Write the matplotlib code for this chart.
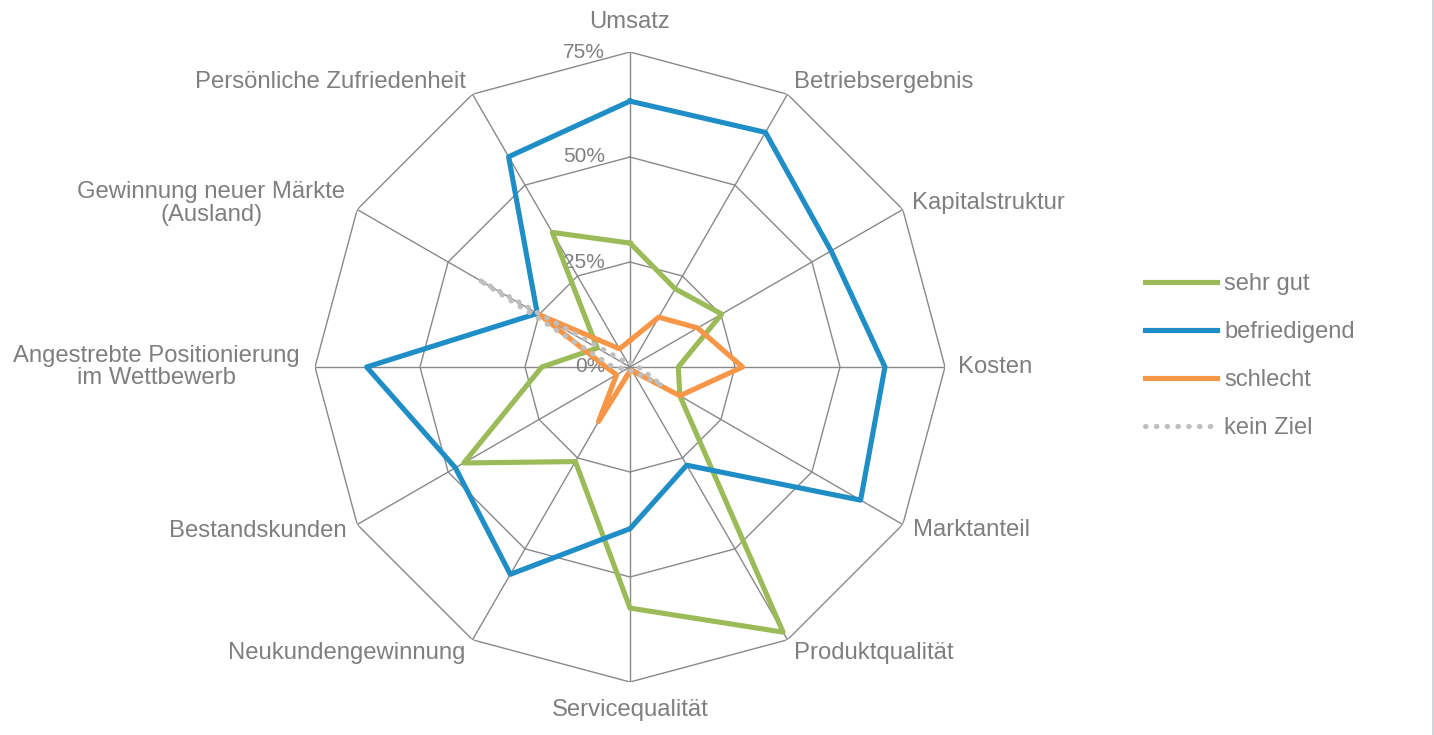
import matplotlib
matplotlib.use("Agg")
import matplotlib.pyplot as plt
from matplotlib.lines import Line2D
import numpy as np

# DATA
categories = ['Umsatz', 'Betriebsergebnis', 'Kapitalstruktur', 'Kosten', 'Marktanteil',
              'Produktqualität', 'Servicequalität', 'Neukundengewinnung', 'Bestandskunden',
              'Angestrebte Positionierung\nim Wettbewerb', 'Gewinnung neuer Märkte\n(Ausland)',
              'Persönliche Zufriedenheit']
sehr_gut = [29.5, 21.5, 25.2, 11.5, 13.7, 72.9, 57.4, 26.0, 45.7, 21.0, 9.0, 37.0]
befriedigend = [63.3, 64.5, 55.3, 60.7, 63.4, 27.0, 38.5, 57.0, 48.0, 62.7, 25.5, 57.8]
schlecht = [6.3, 13.7, 18.6, 26.8, 13.7, 1.0, 1.0, 15.0, 3.7, 5.7, 24.7, 5.0]
kein_ziel = [1.0, 1.0, 1.0, 2.0, 9.0, 1.0, 1.0, 1.0, 1.0, 4.0, 41.8, 1.0]
ring_values = [25, 50, 75]
ring_labels = ['0%', '25%', '50%', '75%']

series = [('sehr gut', sehr_gut, '#9BBB59', '-'),
          ('befriedigend', befriedigend, '#1F8DC6', '-'),
          ('schlecht', schlecht, '#F79646', '-'),
          ('kein Ziel', kein_ziel, '#BFBFBF', (0, (0.1, 2.0)))]

plt.rcParams['font.family'] = ['Liberation Sans', 'DejaVu Sans']
text_color = '#7F7F7F'
grid_color = '#898989'

W, H = 1434, 735
fig = plt.figure(figsize=(W / 100, H / 100), dpi=100)
ax = fig.add_axes([315 / W, 53 / H, 630 / W, 630 / H], projection='polar')
ax.set_theta_offset(np.pi / 2)
ax.set_theta_direction(-1)
ax.set_ylim(0, 75)
ax.grid(False)
ax.set_xticks([])
ax.set_yticks([])
ax.spines['polar'].set_visible(False)

n = len(categories)
theta = np.arange(n) * 2 * np.pi / n
theta_c = np.append(theta, theta[0])

# grid polygons and spokes
for v in ring_values:
    ax.plot(theta_c, [v] * (n + 1), color=grid_color, lw=1.0, zorder=1)
for t in theta:
    ax.plot([t, t], [0, 75], color=grid_color, lw=1.0, zorder=1)

# series
for name, vals, col, ls in series:
    ax.plot(theta_c, vals + vals[:1], color=col, lw=3.7, ls=ls, label=name,
            solid_joinstyle='round', dash_capstyle='round', zorder=3)

# radial labels
for i, lab in enumerate(ring_labels):
    ax.annotate(lab, xy=(0, i * 25), xytext=(-25, 0), textcoords='offset pixels',
                ha='right', va='center', fontsize=15, color=text_color,
                annotation_clip=False, zorder=2)

# category labels: (dx, dy, ha) in pixels from outer vertex
label_pos = [(0, 30, 'center'), (7, 12, 'left'), (9, 6, 'left'), (13, 0, 'left'),
             (10, -6, 'left'), (7, -13, 'left'), (0, -28, 'center'), (-7, -13, 'right'),
             (-11, -6, 'right'), (-15, 0, 'right'), (-12, 6, 'right'), (-7, 12, 'right')]
for t, lab, (dx, dy, ha) in zip(theta, categories, label_pos):
    ax.annotate(lab, xy=(t, 75), xytext=(dx, dy), textcoords='offset pixels',
                ha=ha, va='center', multialignment='center', linespacing=1.05,
                fontsize=17.2, color=text_color, annotation_clip=False)

leg = fig.legend(loc='center left', bbox_to_anchor=(1145 / W, 1 - 356 / H),
                 frameon=False, fontsize=17, handlelength=3.05, handletextpad=0.3,
                 labelspacing=1.1, borderpad=0, borderaxespad=0)
for txt in leg.get_texts():
    txt.set_color(text_color)

fig.add_artist(Line2D([1 - 1.5 / W] * 2, [0, 1], color='#C3CDD7', lw=1.2))

fig.savefig('out.png', dpi=100, facecolor='white')
